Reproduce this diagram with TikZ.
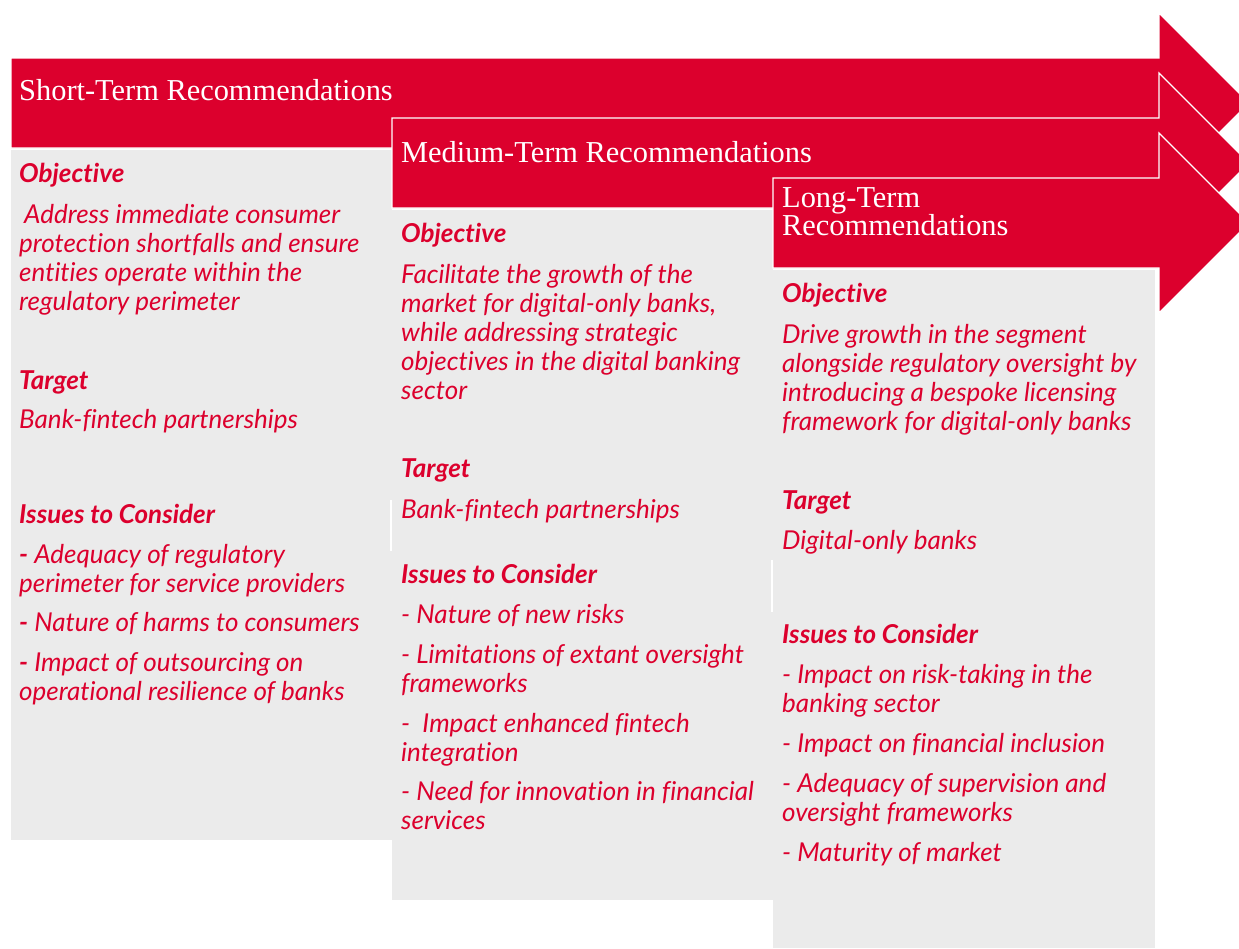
\documentclass[tikz,border=0pt]{standalone}
\usepackage{fontspec}
\setmainfont{Liberation Serif}
\newfontfamily\lato[Ligatures=NoCommon]{Lato}
\definecolor{pwcred}{RGB}{220,0,45}
\definecolor{panelgray}{RGB}{235,235,235}
\begin{document}
\begin{tikzpicture}[x=1pt,y=-1pt,
  arrowshape/.style={fill=pwcred, draw=white, line width=1.2pt, line join=miter},
  panel/.style={fill=panelgray, draw=none},
  hdr/.style={anchor=base west, inner sep=0pt, text=white, font=\fontsize{30.4}{28}\selectfont},
  body/.style={anchor=base west, inner sep=0pt, text=pwcred, font=\lato\itshape\fontsize{26}{29}\selectfont},
  lbl/.style={anchor=base west, inner sep=0pt, text=pwcred, font=\lato\bfseries\itshape\fontsize{26}{29}\selectfont}]
\useasboundingbox (0,0) rectangle (1239,948);
\clip (0,0) rectangle (1239,948);
% panels
\fill[panel] (11,150) rectangle (392,840);
\fill[panel] (392,210) rectangle (773,900);
\fill[panel] (773,270) rectangle (1155,948);
% small white slivers
\draw[white, line width=2pt] (391,500) -- (391,551);
\draw[white, line width=2pt] (772,560) -- (772,612);
% arrows
\path[arrowshape] (11,58) -- (1159,58) -- (1159,13) -- (1249,103) -- (1159,193) -- (1159,148) -- (11,148) -- cycle;
\path[arrowshape] (392,118) -- (1159,118) -- (1159,73) -- (1249,163) -- (1159,253) -- (1159,208) -- (392,208) -- cycle;
\path[arrowshape] (773,178) -- (1159,178) -- (1159,133) -- (1249,223) -- (1159,313) -- (1159,268) -- (773,268) -- cycle;
% headers
\node[hdr] (h1) at (19,100) {Short-Term Recommendations};
\node[hdr] (h2) at (401,162) {Medium-Term Recommendations};
\node[hdr] (h3a) at (782,207) {Long-Term};
\node[hdr] (h3b) at (782,235) {Recommendations};
% panel 1
\node[lbl] (p1o) at (19,182) {Objective};
\node[body] (p1o1) at (24,223) {Address immediate consumer};
\node[body] (p1o2) at (19,252) {protection shortfalls and ensure};
\node[body] (p1o3) at (19,281) {entities operate within the};
\node[body] (p1o4) at (19,310) {regulatory perimeter};
\node[lbl] (p1t) at (19,389) {Target};
\node[body] (p1t1) at (19,428) {Bank-fintech partnerships};
\node[lbl] (p1i) at (19,523) {Issues to Consider};
\node[body] (p1i1) at (19,563) {{\bfseries -} Adequacy of regulatory};
\node[body] (p1i2) at (19,592) {perimeter for service providers};
\node[body] (p1i3) at (19,631) {{\bfseries -} Nature of harms to consumers};
\node[body] (p1i4) at (19,671) {{\bfseries -} Impact of outsourcing on};
\node[body] (p1i5) at (19,700) {operational resilience of banks};
% panel 2
\node[lbl] (p2o) at (401,242) {Objective};
\node[body] (p2o1) at (401,283) {Facilitate the growth of the};
\node[body] (p2o2) at (401,312) {market for digital-only banks,};
\node[body] (p2o3) at (401,341) {while addressing strategic};
\node[body] (p2o4) at (401,370) {objectives in the digital banking};
\node[body] (p2o5) at (401,399) {sector};
\node[lbl] (p2t) at (401,477) {Target};
\node[body] (p2t1) at (401,518) {Bank-fintech partnerships};
\node[lbl] (p2i) at (401,583) {Issues to Consider};
\node[body] (p2i1) at (401,623) {- Nature of new risks};
\node[body] (p2i2) at (401,663) {- Limitations of extant oversight};
\node[body] (p2i3) at (401,692) {frameworks};
\node[body] (p2i4) at (401,732) {-\ \ Impact enhanced fintech};
\node[body] (p2i5) at (401,761) {integration};
\node[body] (p2i6) at (401,800) {- Need for innovation in financial};
\node[body] (p2i7) at (401,829) {services};
% panel 3
\node[lbl] (p3o) at (782,302) {Objective};
\node[body] (p3o1) at (782,343) {Drive growth in the segment};
\node[body] (p3o2) at (782,372) {alongside regulatory oversight by};
\node[body] (p3o3) at (782,401) {introducing a bespoke licensing};
\node[body] (p3o4) at (782,430) {framework for digital-only banks};
\node[lbl] (p3t) at (782,509) {Target};
\node[body] (p3t1) at (782,549) {Digital-only banks};
\node[lbl] (p3i) at (782,643) {Issues to Consider};
\node[body] (p3i1) at (782,683) {- Impact on risk-taking in the};
\node[body] (p3i2) at (782,712) {banking sector};
\node[body] (p3i3) at (782,752) {- Impact on financial inclusion};
\node[body] (p3i4) at (782,792) {- Adequacy of supervision and};
\node[body] (p3i5) at (782,821) {oversight frameworks};
\node[body] (p3i6) at (782,861) {- Maturity of market};
\end{tikzpicture}
\end{document}
